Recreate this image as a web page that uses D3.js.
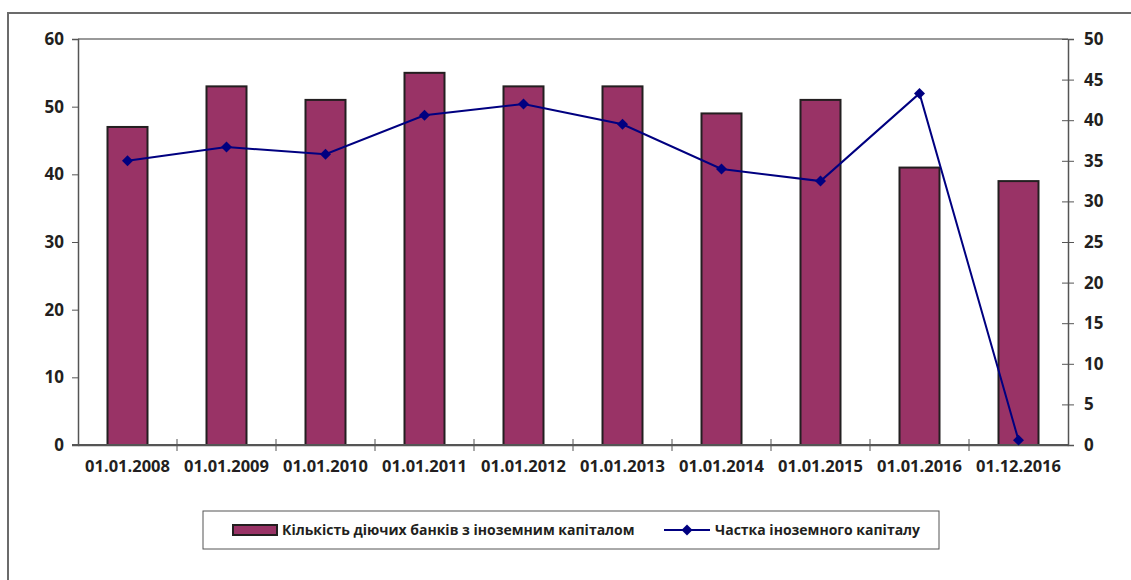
<!DOCTYPE html>
<html>
  <head>
    <meta charset="utf-8" />
    <style>
      body {
        margin: 0;
        background: white;
      }
      text {
        font-family: "Open Sans", sans-serif;
        font-weight: bold;
        fill: #231f20;
      }
    </style>
  </head>
  <body>
    <svg width="1131" height="580"></svg>
    <script src="https://d3js.org/d3.v7.min.js"></script>
    <script>
      let dates = [
        "01.01.2008",
        "01.01.2009",
        "01.01.2010",
        "01.01.2011",
        "01.01.2012",
        "01.01.2013",
        "01.01.2014",
        "01.01.2015",
        "01.01.2016",
        "01.12.2016",
      ];
      let banks = [47, 53, 51, 55, 53, 53, 49, 51, 41, 39];
      let share = [35.0, 36.7, 35.8, 40.6, 42.0, 39.5, 34.0, 32.5, 43.3, 0.6];
      let leftTicks = [0, 10, 20, 30, 40, 50, 60];
      let rightTicks = [0, 5, 10, 15, 20, 25, 30, 35, 40, 45, 50];
      let barLabel = "Кількість діючих банків з іноземним капіталом";
      let lineLabel = "Частка іноземного капіталу";

      let svg = d3.select("svg");
      let margin = { top: 39, right: 63, bottom: 135, left: 78 };
      let width = 1131;
      let height = 580;

      // outer frame (cut off at the right and bottom)
      svg
        .append("path")
        .attr("d", "M8,580 L8,13 L1131,13")
        .attr("fill", "none")
        .attr("stroke", "#6b6b6b")
        .attr("stroke-width", 2);

      let x = d3
        .scaleBand()
        .domain(dates)
        .range([margin.left, width - margin.right]);

      let y = d3
        .scaleLinear()
        .domain([0, 60])
        .range([height - margin.bottom, margin.top]);

      let y2 = d3
        .scaleLinear()
        .domain([0, 50])
        .range([height - margin.bottom, margin.top]);

      // top grid line
      svg
        .append("line")
        .attr("x1", margin.left)
        .attr("x2", width - margin.right)
        .attr("y1", y(60))
        .attr("y2", y(60))
        .attr("stroke", "#999")
        .attr("stroke-width", 2);

      let barW = 40;
      svg
        .append("g")
        .selectAll("rect")
        .data(banks)
        .join("rect")
        .attr("x", (d, i) => x(dates[i]) + x.bandwidth() / 2 - barW / 2)
        .attr("y", (d) => y(d))
        .attr("width", barW)
        .attr("height", (d) => y(0) - y(d))
        .attr("fill", "#993366")
        .attr("stroke", "#231f20")
        .attr("stroke-width", 2);

      // left axis
      let yAxis = svg
        .append("g")
        .attr("transform", `translate(${margin.left},0)`)
        .call(d3.axisLeft(y).tickValues(leftTicks).tickSize(6).tickPadding(8));
      yAxis.selectAll("text").style("font-size", "17px");

      // right axis
      let yAxis2 = svg
        .append("g")
        .attr("transform", `translate(${width - margin.right},0)`)
        .call(d3.axisRight(y2).tickValues(rightTicks).tickSize(6).tickPadding(10));
      yAxis2.selectAll(".tick line").attr("x1", -6);
      yAxis2.selectAll("text").style("font-size", "17px");

      // bottom axis
      let xAxis = svg
        .append("g")
        .attr("transform", `translate(0,${y(0)})`)
        .call(d3.axisBottom(x).tickSize(0).tickPadding(15));
      xAxis.selectAll("text").style("font-size", "16.5px");
      xAxis
        .selectAll(".sep")
        .data(dates.slice(1))
        .join("line")
        .attr("class", "sep")
        .attr("x1", (d) => x(d))
        .attr("x2", (d) => x(d))
        .attr("y1", -6)
        .attr("y2", 6)
        .attr("stroke", "#555");

      [yAxis, yAxis2, xAxis].forEach((a) => {
        a.select(".domain").attr("stroke", "#555").attr("stroke-width", 1.5);
        a.selectAll(".tick line").attr("stroke", "#555");
      });
      xAxis
        .append("line")
        .attr("x1", margin.left - 6)
        .attr("x2", width - margin.right)
        .attr("stroke", "#555")
        .attr("stroke-width", 2);

      // line series
      let line = d3
        .line()
        .x((d, i) => x(dates[i]) + x.bandwidth() / 2)
        .y((d) => y2(d));

      svg
        .append("path")
        .datum(share)
        .attr("d", line)
        .attr("fill", "none")
        .attr("stroke", "#000080")
        .attr("stroke-width", 2);

      let marker = d3.symbol().type(d3.symbolSquare).size(60);
      svg
        .append("g")
        .selectAll("path")
        .data(share)
        .join("path")
        .attr(
          "transform",
          (d, i) =>
            `translate(${x(dates[i]) + x.bandwidth() / 2},${y2(d)}) rotate(45)`
        )
        .attr("d", marker)
        .attr("fill", "#000080");

      // legend
      let legend = svg.append("g");
      legend
        .append("rect")
        .attr("x", 203)
        .attr("y", 511)
        .attr("width", 736)
        .attr("height", 38)
        .attr("fill", "white")
        .attr("stroke", "#555")
        .attr("stroke-width", 1);
      legend
        .append("rect")
        .attr("x", 233)
        .attr("y", 525)
        .attr("width", 44)
        .attr("height", 10)
        .attr("fill", "#993366")
        .attr("stroke", "#231f20")
        .attr("stroke-width", 2);
      legend
        .append("text")
        .attr("x", 282)
        .attr("y", 535)
        .style("font-size", "14px")
        .text(barLabel);
      legend
        .append("line")
        .attr("x1", 664)
        .attr("x2", 710)
        .attr("y1", 530)
        .attr("y2", 530)
        .attr("stroke", "#000080")
        .attr("stroke-width", 2);
      legend
        .append("path")
        .attr("transform", "translate(687,530) rotate(45)")
        .attr("d", marker)
        .attr("fill", "#000080");
      legend
        .append("text")
        .attr("x", 715)
        .attr("y", 535)
        .style("font-size", "14px")
        .text(lineLabel);
    </script>
  </body>
</html>
